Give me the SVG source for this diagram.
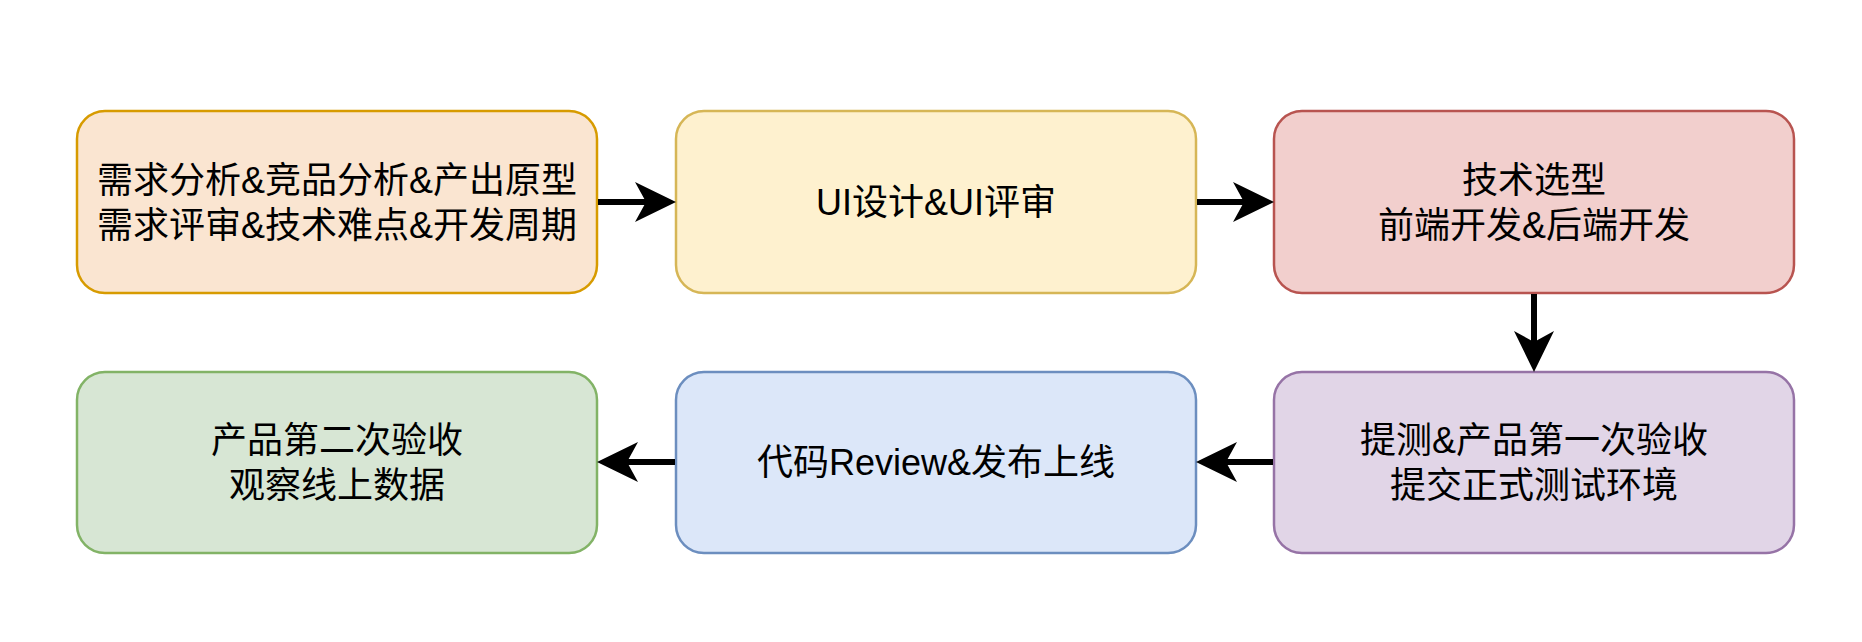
<svg xmlns="http://www.w3.org/2000/svg" width="1862" height="642" viewBox="0 0 1862 642">
  <style>
    .box { stroke-width: 2.5; }
    .lbl { font-family: "Liberation Sans", "Noto Sans CJK SC", sans-serif; font-size: 36px; fill: #000; text-anchor: middle; dominant-baseline: central; }
    .conn { stroke: #000; stroke-width: 6; fill: none; marker-end: url(#arrow); }
  </style>
  <defs>
    <marker id="arrow" markerUnits="userSpaceOnUse" viewBox="-12 -21 43 42" refX="0" refY="0" markerWidth="43" markerHeight="42" orient="auto">
      <path d="M30,0 L-11,-20 L0,0 L-11,20 Z" fill="#000"/>
    </marker>
  </defs>
  <rect width="1862" height="642" fill="#fff"/>

  <g id="n1">
    <rect class="box" x="77" y="111" width="520" height="182" rx="28" fill="#fae5d1" stroke="#d79b00"/>
    <text class="lbl" x="337" y="180">需求分析&amp;竞品分析&amp;产出原型</text>
    <text class="lbl" x="337" y="225">需求评审&amp;技术难点&amp;开发周期</text>
  </g>
  <g id="n2">
    <rect class="box" x="676" y="111" width="520" height="182" rx="28" fill="#fef1cf" stroke="#d6b656"/>
    <text class="lbl" x="936" y="202">UI设计&amp;UI评审</text>
  </g>
  <g id="n3">
    <rect class="box" x="1274" y="111" width="520" height="182" rx="28" fill="#f2cfcd" stroke="#b85450"/>
    <text class="lbl" x="1534" y="180">技术选型</text>
    <text class="lbl" x="1534" y="225">前端开发&amp;后端开发</text>
  </g>
  <g id="n4">
    <rect class="box" x="1274" y="372" width="520" height="181" rx="28" fill="#e1d5e7" stroke="#9673a6"/>
    <text class="lbl" x="1534" y="440">提测&amp;产品第一次验收</text>
    <text class="lbl" x="1534" y="485">提交正式测试环境</text>
  </g>
  <g id="n5">
    <rect class="box" x="676" y="372" width="520" height="181" rx="28" fill="#dce7f9" stroke="#6c8ebf"/>
    <text class="lbl" x="936" y="462">代码Review&amp;发布上线</text>
  </g>
  <g id="n6">
    <rect class="box" x="77" y="372" width="520" height="181" rx="28" fill="#d7e6d4" stroke="#82b366"/>
    <text class="lbl" x="337" y="440">产品第二次验收</text>
    <text class="lbl" x="337" y="485">观察线上数据</text>
  </g>

  <g id="connectors">
    <line class="conn" x1="598" y1="202" x2="646" y2="202"/>
    <line class="conn" x1="1197" y1="202" x2="1244" y2="202"/>
    <line class="conn" x1="1534" y1="294" x2="1534" y2="342"/>
    <line class="conn" x1="1273" y1="462" x2="1226" y2="462"/>
    <line class="conn" x1="675" y1="462" x2="627" y2="462"/>
  </g>
</svg>
